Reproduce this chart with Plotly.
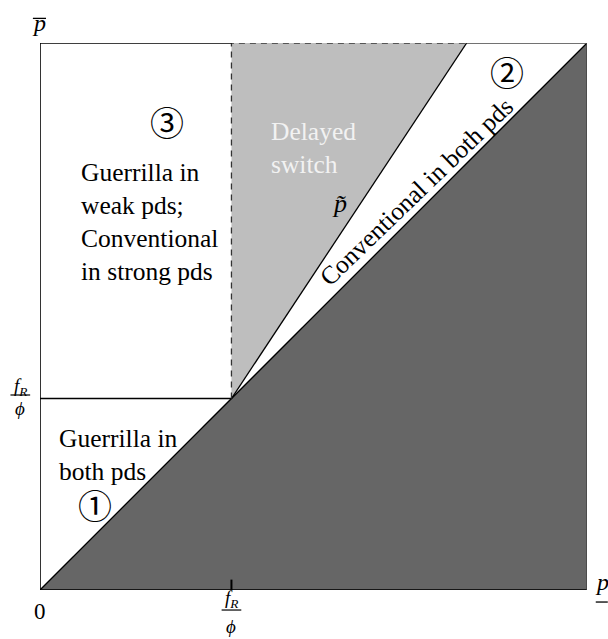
import plotly.graph_objects as go

# --- data (unit square, axes p_ on x and p-bar on y) ---
k = 0.35                     # f_R / phi threshold
ptilde_top = 0.78            # where the p-tilde line meets the top edge
dark_x = [0, 1, 1, 0]        # region below the diagonal
dark_y = [0, 0, 1, 0]
delayed_x = [k, k, ptilde_top, k]
delayed_y = [k, 1, 1, k]

region_labels = [
    # text, x, y, anchor, colour, angle
    ("Guerrilla in<br>weak pds;<br>Conventional<br>in strong pds", 0.071, 0.672, "left", "black", 0),
    ("Delayed<br>switch", 0.418, 0.808, "left", "#f2f2f2", 0),
    ("Guerrilla in<br>both pds", 0.031, 0.247, "left", "black", 0),
    ("Conventional in both pds", 0.689, 0.728, "center", "black", -44),
]
circle_labels = [("③", 0.232, 0.856), ("②", 0.854, 0.947), ("①", 0.100, 0.157)]

SERIF = "Liberation Serif"
fig = go.Figure()

fig.add_trace(go.Scatter(x=dark_x, y=dark_y, fill="toself", fillcolor="#666666",
                         mode="lines", line=dict(color="#555555", width=1),
                         hoverinfo="skip", showlegend=False))
fig.add_trace(go.Scatter(x=delayed_x, y=delayed_y, fill="toself", fillcolor="#bebebe",
                         mode="lines", line=dict(width=0),
                         hoverinfo="skip", showlegend=False))
# boundaries
fig.add_trace(go.Scatter(x=[k, ptilde_top], y=[k, 1], mode="lines",
                         line=dict(color="black", width=1.3), showlegend=False, hoverinfo="skip"))
fig.add_trace(go.Scatter(x=[0, 1], y=[0, 1], mode="lines",
                         line=dict(color="black", width=1.3), showlegend=False, hoverinfo="skip"))
fig.add_trace(go.Scatter(x=[0, k], y=[k, k], mode="lines",
                         line=dict(color="black", width=1.6), showlegend=False, hoverinfo="skip"))
fig.add_trace(go.Scatter(x=[k, k, ptilde_top], y=[k, 1, 1], mode="lines",
                         line=dict(color="#333333", width=1.3, dash="6px,5px"),
                         showlegend=False, hoverinfo="skip"))
# frame
fig.add_trace(go.Scatter(x=[k, 0, 0, 1], y=[1, 1, 0, 0], mode="lines",
                         line=dict(color="black", width=1.6), showlegend=False, hoverinfo="skip"))
fig.add_trace(go.Scatter(x=[ptilde_top, 1, 1], y=[1, 1, 0], mode="lines",
                         line=dict(color="#444444", width=1.3), showlegend=False, hoverinfo="skip"))
# tick at f_R/phi
fig.add_trace(go.Scatter(x=[k, k], y=[0, 0.019], mode="lines",
                         line=dict(color="black", width=2), showlegend=False, hoverinfo="skip"))

ann = []
for t, x, y, al, col, ang in region_labels:
    ann.append(dict(x=x, y=y, text=t, showarrow=False, xanchor=al if ang == 0 else "center",
                    yanchor="middle", align="left", textangle=ang,
                    font=dict(family=SERIF, size=25.5, color=col)))
for t, x, y in circle_labels:
    ann.append(dict(x=x, y=y, text=t, showarrow=False, xanchor="center", yanchor="middle",
                    font=dict(family="Noto Sans CJK JP", size=34, color="black")))

# p-tilde label
ann.append(dict(x=0.548, y=0.706, text="<i>p\u0303</i>", showarrow=False,
                xanchor="center", yanchor="middle",
                font=dict(family=SERIF, size=26, color="black")))

P = dict(xref="paper", yref="paper", showarrow=False, xanchor="center", yanchor="middle")
# axis labels
ann.append(dict(x=0.0, y=-0.039, text="0", font=dict(family=SERIF, size=23, color="black"), **P))
ann.append(dict(x=-0.002, y=1.036, text="<i>p</i>", font=dict(family=SERIF, size=24, color="black"), **P))
ann.append(dict(x=1.027, y=0.014, text="<i>p</i>", font=dict(family=SERIF, size=24, color="black"), **P))

# fractions f_R / phi  (numerator, bar, denominator offsets in paper units)
frac_font = dict(family=SERIF, size=19, color="black")
frac_pos = [(-0.036, k + 0.021, k + 0.0065, k - 0.019),
            (k, -0.016, -0.0366, -0.066)]
shapes = []
for cx, ny, by, dy in frac_pos:
    ann.append(dict(x=cx, y=ny, text="<i>f<sub>R</sub></i>", font=frac_font, **P))
    ann.append(dict(x=cx, y=dy, text="<i>ϕ</i>", font=frac_font, **P))
    shapes.append(dict(type="line", xref="paper", yref="paper", x0=cx - 0.018, x1=cx + 0.018,
                       y0=by, y1=by, line=dict(color="black", width=1.2)))

# overline on p-bar, underline on p_
shapes.append(dict(type="line", xref="paper", yref="paper", x0=-0.013, x1=0.011, y0=1.045, y1=1.045,
                   line=dict(color="black", width=1.3)))
shapes.append(dict(type="line", xref="paper", yref="paper", x0=1.016, x1=1.038, y0=-0.022, y1=-0.022,
                   line=dict(color="black", width=1.3)))

fig.update_layout(
    width=608, height=639,
    margin=dict(l=40, r=21, t=43, b=49),
    paper_bgcolor="white", plot_bgcolor="white",
    xaxis=dict(range=[0, 1], showgrid=False, zeroline=False, showticklabels=False,
               showline=False, ticks=""),
    yaxis=dict(range=[0, 1], showgrid=False, zeroline=False, showticklabels=False,
               showline=False, ticks=""),
    annotations=ann, shapes=shapes,
)
fig.write_html("out.html", config={"displayModeBar": False},
               post_script="document.body.style.margin='0';document.body.style.overflow='hidden';")
